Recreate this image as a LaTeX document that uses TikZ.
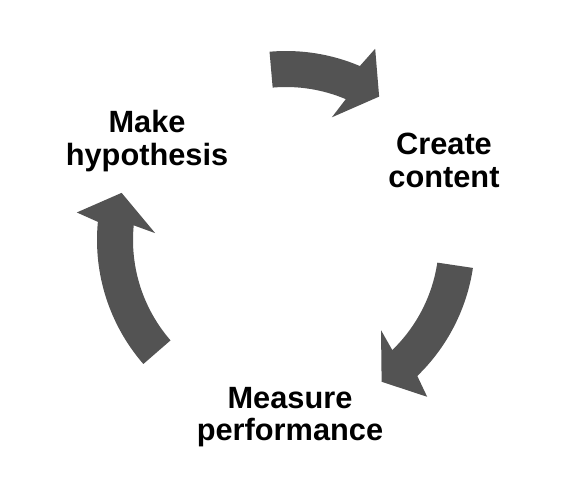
\documentclass[tikz,border=0pt]{standalone}
\usepackage{fontspec}
\setmainfont{Liberation Sans}
\usepackage{xcolor}
\usepackage{tikz}
\definecolor{cyclegray}{RGB}{83,83,83}
\tikzset{
  cyc/.style ={fill=cyclegray, draw=none},
  step lab/.style ={font=\fontsize{17.5}{18.4}\selectfont\bfseries, align=center, inner sep=0pt},
}

\begin{document}
\begin{tikzpicture}
  \useasboundingbox (0,0) rectangle (11.28,9.78);
  % three curved arrows round the cycle
  \begin{scope}[shift={(5.72,4.98)}]
  \fill[cyc] (95:3.78) arc[start angle=95, end angle=67, radius=3.78]
    -- (65:4.22) -- (57:3.42) -- (69.5:2.62) -- (67:3.06)
    arc[start angle=67, end angle=95, radius=3.06] -- cycle;
  \fill[cyc] (-8.5:3.78) arc[start angle=-8.5, end angle=-46, radius=3.78]
    -- (-48:4.22) -- (-56:3.42) -- (-43.5:2.62) -- (-46:3.06)
    arc[start angle=-46, end angle=-8.5, radius=3.06] -- cycle;
  \fill[cyc] (221:3.78) arc[start angle=221, end angle=174.5, radius=3.78]
    -- (172.5:4.22) -- (164:3.42) -- (177:2.62) -- (174.5:3.06)
    arc[start angle=174.5, end angle=221, radius=3.06] -- cycle;
  \end{scope}
  % labels
  \node[step lab] (hyp) at (2.94,6.96) {Make\\hypothesis};
  \node[step lab] (create) at (8.88,6.57) {Create\\content};
  \node[step lab] (measure) at (5.8,1.44) {Measure\\performance};
\end{tikzpicture}
\end{document}
